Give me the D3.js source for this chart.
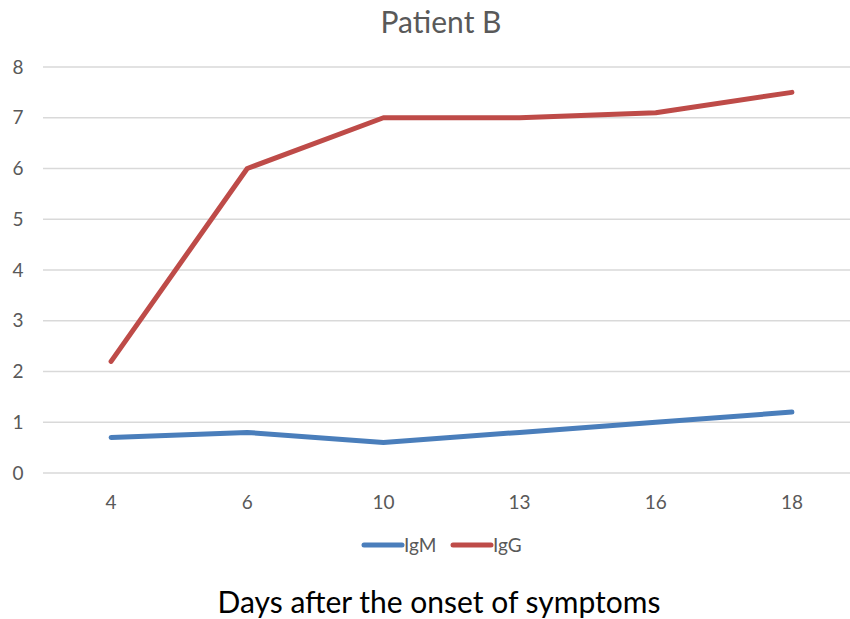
<!DOCTYPE html>
<html>
<head>
<meta charset="utf-8">
<script src="https://cdn.jsdelivr.net/npm/d3@7"></script>
<style>
body{margin:0;background:#fff}
text{font-family:Lato,"Open Sans",sans-serif}
</style>
</head>
<body>
<script>
// data
var days=["4","6","10","13","16","18"]
var igm=[0.7,0.8,0.6,0.8,1.0,1.2]
var igg=[2.2,6.0,7.0,7.0,7.1,7.5]
var yTicks=[0,1,2,3,4,5,6,7,8]

var screen={width:850,height:619}
var margins={top:67,right:-10,bottom:146,left:43}
var width=screen.width-margins.left-margins.right
var height=screen.height-margins.top-margins.bottom

var svg=d3.select("body").append("svg")
  .attr("width",screen.width)
  .attr("height",screen.height)

var xScale=d3.scalePoint()
  .domain(days)
  .range([0,width])
  .padding(0.5)
var yScale=d3.scaleLinear()
  .domain([0,8])
  .range([height,0])

var plot=svg.append("g")
  .attr("transform","translate("+margins.left+","+margins.top+")")

//gridlines
plot.selectAll(".grid")
  .data(yTicks)
  .enter()
  .append("line")
  .attr("x1",0)
  .attr("x2",width)
  .attr("y1",function(d){return yScale(d)})
  .attr("y2",function(d){return yScale(d)})
  .style("stroke","#d9d9d9")
  .style("stroke-width",1.3)

//y labels
plot.selectAll(".ylab")
  .data(yTicks)
  .enter()
  .append("text")
  .attr("x",-25)
  .attr("y",function(d){return yScale(d)})
  .attr("dy","0.35em")
  .attr("text-anchor","middle")
  .style("font-size","19px")
  .style("fill","#595959")
  .text(function(d){return d})

//x labels
plot.selectAll(".xlab")
  .data(days)
  .enter()
  .append("text")
  .attr("x",function(d){return xScale(d)})
  .attr("y",height+36)
  .attr("text-anchor","middle")
  .style("font-size","19px")
  .style("fill","#595959")
  .text(function(d){return d})

var line=d3.line()
  .x(function(d,i){return xScale(days[i])})
  .y(function(d){return yScale(d)})

var series=[{name:"IgM",values:igm,color:"#4a7ebb"},{name:"IgG",values:igg,color:"#be4b48"}]

plot.selectAll(".series")
  .data(series)
  .enter()
  .append("path")
  .attr("d",function(d){return line(d.values)})
  .style("fill","none")
  .style("stroke",function(d){return d.color})
  .style("stroke-width",5)
  .style("stroke-linecap","round")
  .style("stroke-linejoin","round")

//title
svg.append("text")
  .attr("x",441)
  .attr("y",33)
  .attr("text-anchor","middle")
  .style("font-size","30px")
  .style("fill","#595959")
  .text("Patient B")

//legend
var legend=svg.append("g")
  .selectAll("g")
  .data(series)
  .enter()
  .append("g")
  .attr("transform",function(d,i){return "translate("+(364+i*89)+",545)"})
legend.append("line")
  .attr("x1",0).attr("x2",38)
  .style("stroke",function(d){return d.color})
  .style("stroke-width",5)
  .style("stroke-linecap","round")
legend.append("text")
  .attr("x",40)
  .attr("dy","0.35em")
  .style("font-size","19px")
  .style("fill","#595959")
  .text(function(d){return d.name})

//x axis title
svg.append("text")
  .attr("x",439)
  .attr("y",613)
  .attr("text-anchor","middle")
  .style("font-size","30px")
  .style("fill","#000")
  .text("Days after the onset of symptoms")
</script>
</body>
</html>
